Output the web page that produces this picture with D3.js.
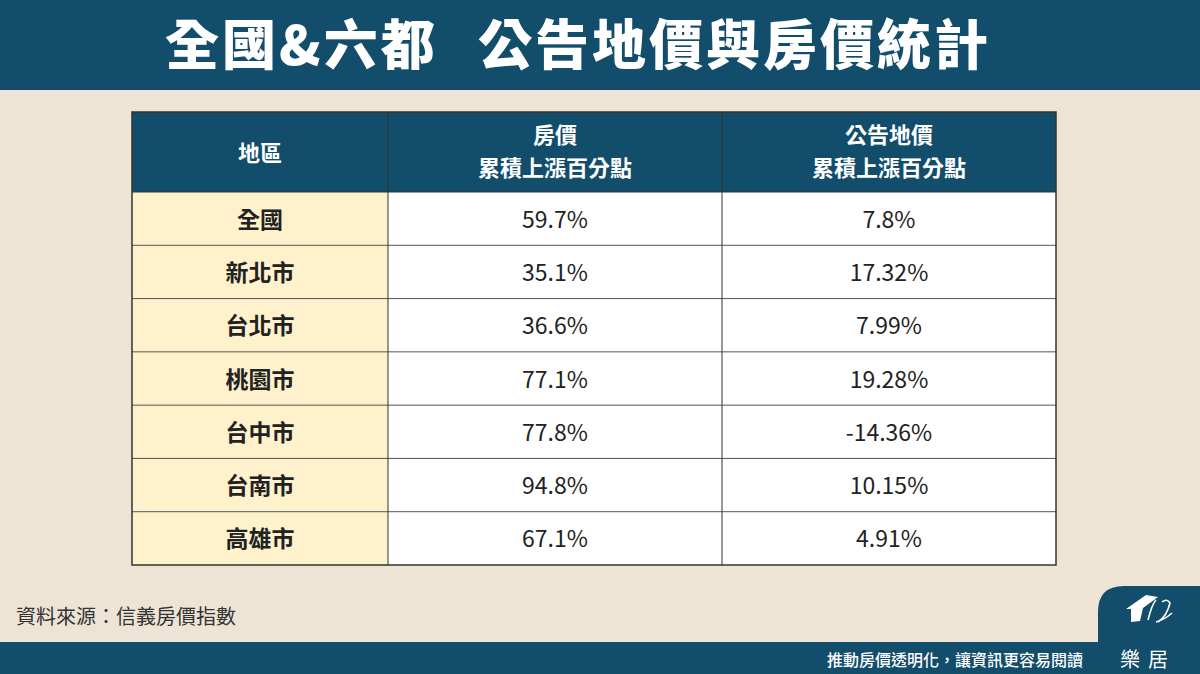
<!DOCTYPE html>
<html><head><meta charset="utf-8">
<script src="https://cdn.jsdelivr.net/npm/d3@7"></script>
<style>body{margin:0;background:#ede4d6;}svg{display:block;font-family:"Noto Sans CJK TC","Noto Sans",sans-serif;}</style>
</head><body><svg id="c" width="1200" height="674"></svg>
<script>
'use strict';

var regions = ['全國', '新北市', '台北市', '桃園市', '台中市', '台南市', '高雄市'];
var housePrice = ['59.7%', '35.1%', '36.6%', '77.1%', '77.8%', '94.8%', '67.1%'];
var landPrice = ['7.8%', '17.32%', '7.99%', '19.28%', '-14.36%', '10.15%', '4.91%'];
var headers = [['地區'], ['房價', '累積上漲百分點'], ['公告地價', '累積上漲百分點']];

var navy = '#124d6b';
var svg = d3.select('#c');

svg.append('rect').attr('width', 1200).attr('height', 674).attr('fill', '#ede4d6');
svg.append('rect').attr('width', 1200).attr('height', 90).attr('fill', navy);
var title = svg.append('text').attr('y', 65).attr('fill', '#fff')
	.style('font-size', '54px').style('font-weight', 900).attr('letter-spacing', '3px');
title.append('tspan').attr('x', 165).text('全國&六都');
title.append('tspan').attr('x', 478).text('公告地價與房價統計');

// table
var x = d3.scaleOrdinal().domain([0, 1, 2]).range([132, 388, 722]);
var colW = [256, 334, 334];
var y = d3.scaleBand().domain(regions).range([192, 565]);
var g = svg.append('g');

g.append('rect').attr('x', 132).attr('y', 112).attr('width', 924).attr('height', 80).attr('fill', navy);
headers.forEach(function(h, i) {
	var cy = h.length == 1 ? 161 : 143;
	h.forEach(function(s, j) {
		g.append('text').attr('text-anchor', 'middle').attr('fill', '#fff')
			.style('font-size', '22px').style('font-weight', 700)
			.attr('x', x(i) + colW[i] / 2).attr('y', cy + j * 33).text(s);
	});
});

var rows = g.selectAll('.row').data(regions).enter().append('g').attr('class', 'row');
rows.append('rect').attr('x', 132).attr('y', function(d) { return y(d); })
	.attr('width', 256).attr('height', y.bandwidth()).attr('fill', '#fff1cc');
rows.append('rect').attr('x', 388).attr('y', function(d) { return y(d); })
	.attr('width', 668).attr('height', y.bandwidth()).attr('fill', '#fff');
rows.append('text').attr('x', 260).attr('y', function(d) { return y(d) + y.bandwidth() / 2 + 9; })
	.attr('text-anchor', 'middle').attr('fill', '#222').style('font-size', '23px').style('font-weight', 700)
	.text(function(d) { return d; });
rows.append('text').attr('x', 555).attr('y', function(d) { return y(d) + y.bandwidth() / 2 + 9; })
	.attr('text-anchor', 'middle').attr('fill', '#222').style('font-size', '23px')
	.text(function(d, i) { return housePrice[i]; });
rows.append('text').attr('x', 889).attr('y', function(d) { return y(d) + y.bandwidth() / 2 + 9; })
	.attr('text-anchor', 'middle').attr('fill', '#222').style('font-size', '23px')
	.text(function(d, i) { return landPrice[i]; });

// grid lines
regions.forEach(function(d, i) {
	if (i > 0) g.append('line').attr('x1', 132).attr('x2', 1056).attr('y1', y(d)).attr('y2', y(d))
		.attr('stroke', '#555').attr('stroke-width', 1);
});
g.append('line').attr('x1', 132).attr('x2', 1056).attr('y1', 192).attr('y2', 192).attr('stroke', '#333');
[388, 722].forEach(function(v) {
	g.append('line').attr('x1', v).attr('x2', v).attr('y1', 112).attr('y2', 565).attr('stroke', '#333');
});
g.append('rect').attr('x', 132).attr('y', 112).attr('width', 924).attr('height', 453)
	.attr('fill', 'none').attr('stroke', '#333').attr('stroke-width', 1.5);

// source
svg.append('text').attr('x', 16).attr('y', 624).attr('fill', '#333').style('font-size', '20px').style('font-weight', 400)
	.text('資料來源：信義房價指數');

// footer
svg.append('rect').attr('x', 0).attr('y', 642).attr('width', 1200).attr('height', 32).attr('fill', navy);
svg.append('path').attr('d', 'M1098,644 L1098,612 Q1098,586 1124,586 L1200,586 L1200,644 Z').attr('fill', navy);
svg.append('text').attr('x', 1083).attr('y', 666).attr('text-anchor', 'end').attr('fill', '#fff')
	.style('font-size', '16px').style('font-weight', 500).text('推動房價透明化，讓資訊更容易閱讀');
svg.append('text').attr('x', 1148).attr('y', 667).attr('text-anchor', 'middle').attr('fill', '#fff')
	.style('font-size', '20px').attr('letter-spacing', '8px').text('樂居');
// logo
svg.append('path').attr('d', 'M1131,622 L1131,609 L1126,609 L1146,595 L1158,597 L1143,608 L1140,621 Z').attr('fill', '#fff');
svg.append('path').attr('d', 'M1148,620 Q1152,604 1156,600 M1162,602 Q1167,598 1170,603 Q1167,616 1158,622 M1156,622 Q1164,620 1172,613')
	.attr('fill', 'none').attr('stroke', '#fff').attr('stroke-width', 1.6);
</script></body></html>
